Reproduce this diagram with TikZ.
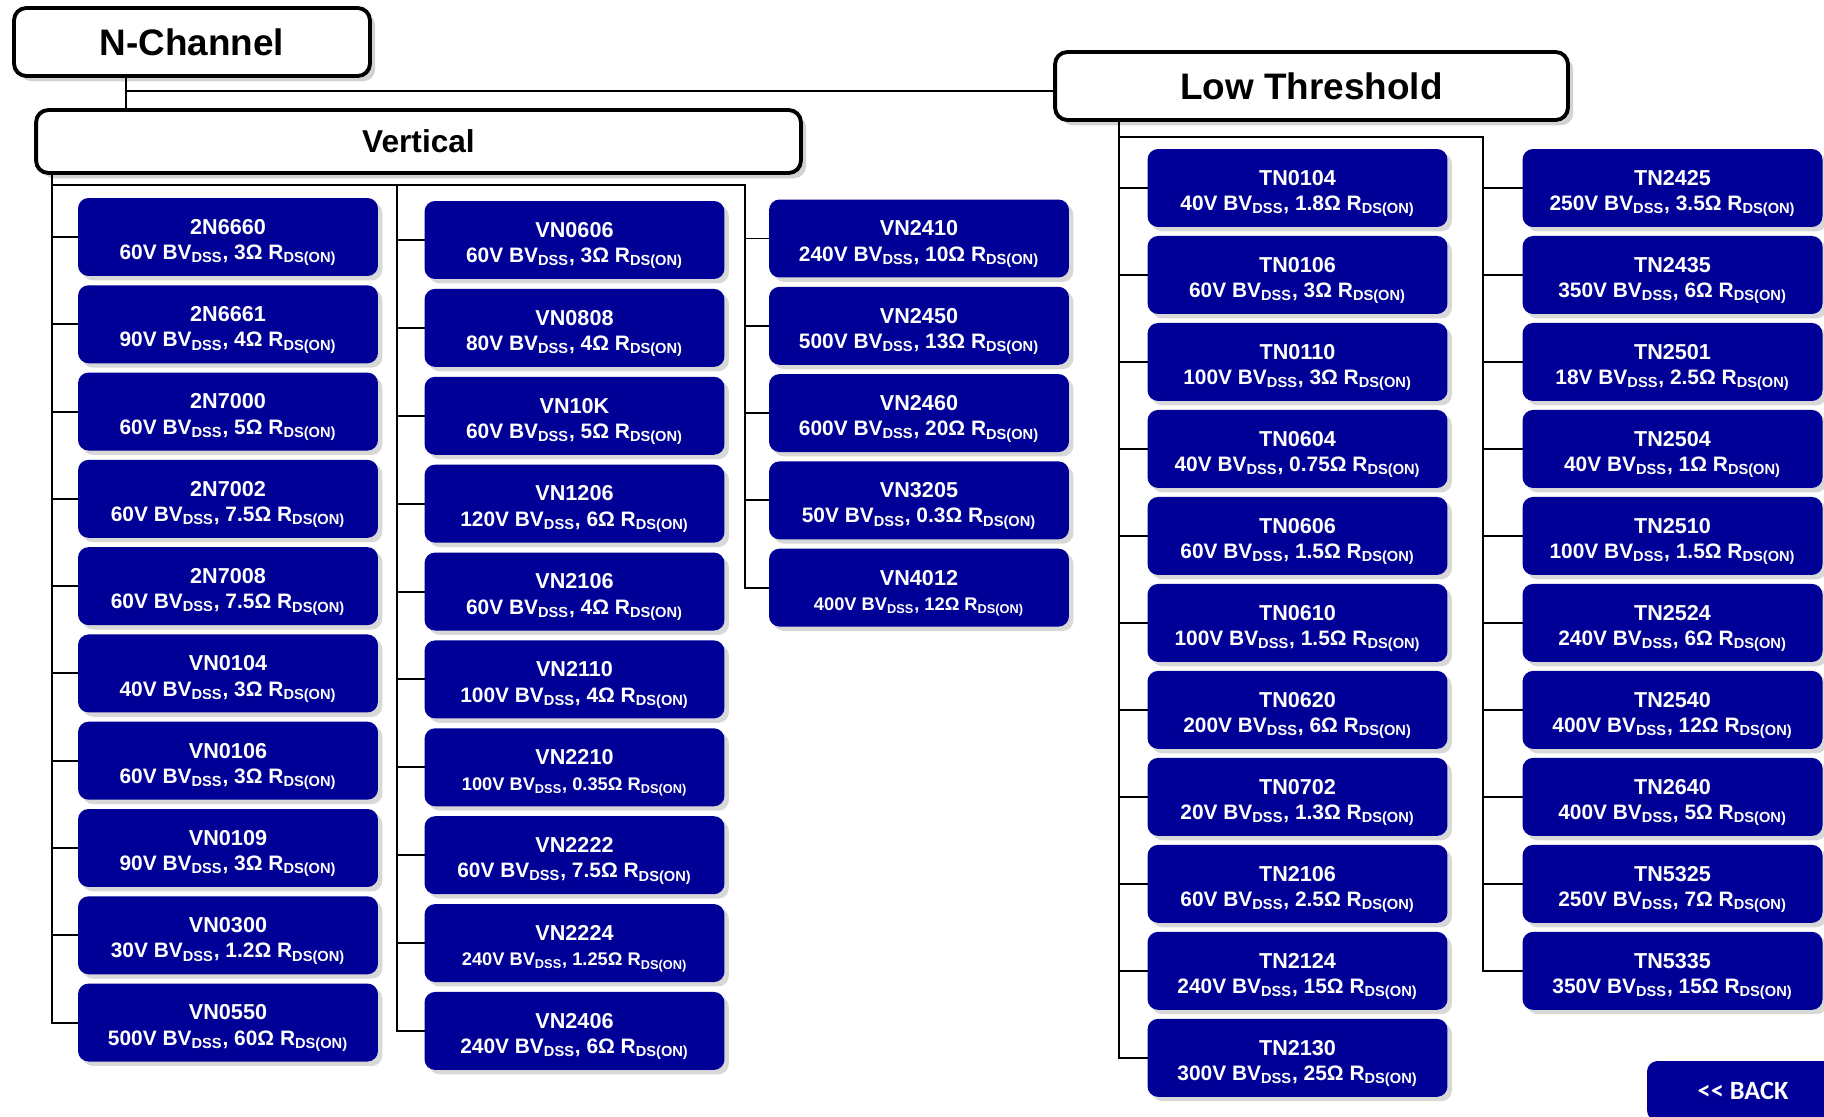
\documentclass[tikz,border=0pt]{standalone}
\usepackage{fontspec}
\setmainfont{Liberation Sans}
\newfontfamily\backfont{Carlito}
\usetikzlibrary{positioning,shadows}
\definecolor{chipblue}{RGB}{0,0,150}
\newcommand{\linetxt}{\fontsize{11.9}{14.4}\selectfont}
\newcommand{\smalltxt}{\fontsize{10.4}{14.4}\selectfont}
\newcommand{\mosfet}[4][\linetxt]{\rule{0pt}{15pt}#2\\{#1#3 BV\textsubscript{DSS}, #4 R\textsubscript{DS(ON)}}}

\begin{document}
\begin{tikzpicture}[
		x=0.02cm, y=-0.02cm,
		node distance=0.186cm,
		head/.style={draw, line width=2.2pt, rounded corners=7pt, fill=white,
			font=\bfseries\fontsize{21}{25}\selectfont,
			drop shadow={shadow xshift=3pt, shadow yshift=-3pt, fill=black!35, opacity=0.5}},
		dev/.style={fill=chipblue, text=white, rounded corners=6pt, minimum width=6cm,
			minimum height=1.56cm, align=center, inner sep=1pt, outer sep=0pt,
			font=\bfseries\fontsize{12.3}{14.4}\selectfont,
			drop shadow={shadow xshift=2.5pt, shadow yshift=-2.5pt, fill=black!30, opacity=0.5}},
		wire/.style={line width=1.1pt}
		]
		\useasboundingbox (0,0) rectangle (1824,1116);
		
		% headers
		\node[head, minimum width=7.12cm, minimum height=1.36cm] (nch) at (192,42) {N-Channel};
		\node[head, minimum width=10.26cm, minimum height=1.36cm] (lowth) at (1311.5,86) {Low Threshold};
		\node[head, minimum width=15.3cm, minimum height=1.26cm,
			font=\bfseries\fontsize{18}{22}\selectfont] (vert) at (418.5,141.5) {Vertical};
		
		% vertical, column 1
		\node[dev] (2N6660) at (228,237) {\mosfet{2N6660}{60V}{3Ω}};
		\node[dev, below=of 2N6660] (2N6661) {\mosfet{2N6661}{90V}{4Ω}};
		\node[dev, below=of 2N6661] (2N7000) {\mosfet{2N7000}{60V}{5Ω}};
		\node[dev, below=of 2N7000] (2N7002) {\mosfet{2N7002}{60V}{7.5Ω}};
		\node[dev, below=of 2N7002] (2N7008) {\mosfet{2N7008}{60V}{7.5Ω}};
		\node[dev, below=of 2N7008] (VN0104) {\mosfet{VN0104}{40V}{3Ω}};
		\node[dev, below=of VN0104] (VN0106) {\mosfet{VN0106}{60V}{3Ω}};
		\node[dev, below=of VN0106] (VN0109) {\mosfet{VN0109}{90V}{3Ω}};
		\node[dev, below=of VN0109] (VN0300) {\mosfet{VN0300}{30V}{1.2Ω}};
		\node[dev, below=of VN0300] (VN0550) {\mosfet{VN0550}{500V}{60Ω}};
		
		% vertical, column 2
		\begin{scope}[node distance=0.198cm]
		\node[dev] (VN0606) at (574.5,240) {\mosfet{VN0606}{60V}{3Ω}};
		\node[dev, below=of VN0606] (VN0808) {\mosfet{VN0808}{80V}{4Ω}};
		\node[dev, below=of VN0808] (VN10K)  {\mosfet{VN10K}{60V}{5Ω}};
		\node[dev, below=of VN10K]  (VN1206) {\mosfet{VN1206}{120V}{6Ω}};
		\node[dev, below=of VN1206] (VN2106) {\mosfet{VN2106}{60V}{4Ω}};
		\node[dev, below=of VN2106] (VN2110) {\mosfet{VN2110}{100V}{4Ω}};
		\node[dev, below=of VN2110] (VN2210) {\mosfet[\smalltxt]{VN2210}{100V}{0.35Ω}};
		\node[dev, below=of VN2210] (VN2222) {\mosfet{VN2222}{60V}{7.5Ω}};
		\node[dev, below=of VN2222] (VN2224) {\mosfet[\smalltxt]{VN2224}{240V}{1.25Ω}};
		\node[dev, below=of VN2224] (VN2406) {\mosfet{VN2406}{240V}{6Ω}};
		\end{scope}
		
		% vertical, column 3
		\node[dev] (VN2410) at (919,238.5) {\mosfet{VN2410}{240V}{10Ω}};
		\node[dev, below=of VN2410] (VN2450) {\mosfet{VN2450}{500V}{13Ω}};
		\node[dev, below=of VN2450] (VN2460) {\mosfet{VN2460}{600V}{20Ω}};
		\node[dev, below=of VN2460] (VN3205) {\mosfet{VN3205}{50V}{0.3Ω}};
		\node[dev, below=of VN3205] (VN4012) {\mosfet[\smalltxt]{VN4012}{400V}{12Ω}};
		
		\begin{scope}[node distance=0.18cm]
		% low threshold, column 1
		\node[dev] (TN0104) at (1297.5,188) {\mosfet{TN0104}{40V}{1.8Ω}};
		\node[dev, below=of TN0104] (TN0106) {\mosfet{TN0106}{60V}{3Ω}};
		\node[dev, below=of TN0106] (TN0110) {\mosfet{TN0110}{100V}{3Ω}};
		\node[dev, below=of TN0110] (TN0604) {\mosfet{TN0604}{40V}{0.75Ω}};
		\node[dev, below=of TN0604] (TN0606) {\mosfet{TN0606}{60V}{1.5Ω}};
		\node[dev, below=of TN0606] (TN0610) {\mosfet{TN0610}{100V}{1.5Ω}};
		\node[dev, below=of TN0610] (TN0620) {\mosfet{TN0620}{200V}{6Ω}};
		\node[dev, below=of TN0620] (TN0702) {\mosfet{TN0702}{20V}{1.3Ω}};
		\node[dev, below=of TN0702] (TN2106) {\mosfet{TN2106}{60V}{2.5Ω}};
		\node[dev, below=of TN2106] (TN2124) {\mosfet{TN2124}{240V}{15Ω}};
		\node[dev, below=of TN2124] (TN2130) {\mosfet{TN2130}{300V}{25Ω}};
		
		% low threshold, column 2
		\node[dev] (TN2425) at (1672.5,188) {\mosfet{TN2425}{250V}{3.5Ω}};
		\node[dev, below=of TN2425] (TN2435) {\mosfet{TN2435}{350V}{6Ω}};
		\node[dev, below=of TN2435] (TN2501) {\mosfet{TN2501}{18V}{2.5Ω}};
		\node[dev, below=of TN2501] (TN2504) {\mosfet{TN2504}{40V}{1Ω}};
		\node[dev, below=of TN2504] (TN2510) {\mosfet{TN2510}{100V}{1.5Ω}};
		\node[dev, below=of TN2510] (TN2524) {\mosfet{TN2524}{240V}{6Ω}};
		\node[dev, below=of TN2524] (TN2540) {\mosfet{TN2540}{400V}{12Ω}};
		\node[dev, below=of TN2540] (TN2640) {\mosfet{TN2640}{400V}{5Ω}};
		\node[dev, below=of TN2640] (TN5325) {\mosfet{TN5325}{250V}{7Ω}};
		\node[dev, below=of TN5325] (TN5335) {\mosfet{TN5335}{350V}{15Ω}};
		\end{scope}
		
		% back button
		\begin{scope}
			\clip (0,0) rectangle (1824,1116);
			\node[fill=chipblue, text=white, rounded corners=6pt, minimum width=3.84cm,
				minimum height=1.2cm, font=\backfont\bfseries\fontsize{15}{18}\selectfont]
				(back) at (1743,1091) {<< BACK};
		\end{scope}
		
		% tree lines
		\coordinate (nchdrop) at (126,91);
		\coordinate (vbus1) at (52,185);
		\coordinate (vbus2) at (397,185);
		\coordinate (vbus3) at (745,185);
		\coordinate (tbus1) at (1119,137);
		\coordinate (tbus2) at (1483,137);
		
		\draw[wire] (nch.south -| nchdrop) -- (vert.north -| nchdrop);
		\draw[wire] (nchdrop) -- (nchdrop -| lowth.west);
		\draw[wire] (vert.south -| vbus1) |- (VN0550.west);
		\draw[wire] (vbus1) -- (vbus3) |- (VN4012.west);
		\draw[wire] (vbus2) |- (VN2406.west);
		\draw[wire] (lowth.south -| tbus1) |- (TN2130.west);
		\draw[wire] (tbus1) -- (tbus2) |- (TN5335.west);
		
		\foreach \n in {2N6660,2N6661,2N7000,2N7002,2N7008,VN0104,VN0106,VN0109,VN0300}
			\draw[wire] (vbus1 |- \n.west) -- (\n.west);
		\foreach \n in {VN0606,VN0808,VN10K,VN1206,VN2106,VN2110,VN2210,VN2222,VN2224}
			\draw[wire] (vbus2 |- \n.west) -- (\n.west);
		\foreach \n in {VN2410,VN2450,VN2460,VN3205}
			\draw[wire] (vbus3 |- \n.west) -- (\n.west);
		\foreach \n in {TN0104,TN0106,TN0110,TN0604,TN0606,TN0610,TN0620,TN0702,TN2106,TN2124}
			\draw[wire] (tbus1 |- \n.west) -- (\n.west);
		\foreach \n in {TN2425,TN2435,TN2501,TN2504,TN2510,TN2524,TN2540,TN2640,TN5325}
			\draw[wire] (tbus2 |- \n.west) -- (\n.west);
	\end{tikzpicture}
\end{document}
